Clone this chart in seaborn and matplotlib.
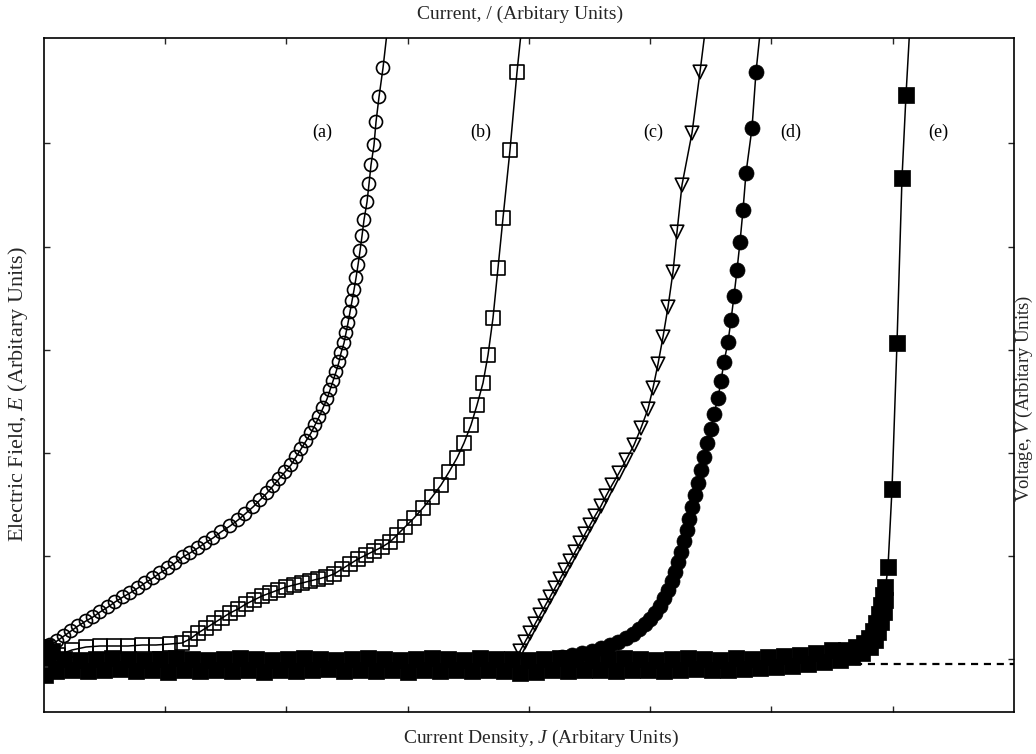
import matplotlib
matplotlib.use("Agg")
import matplotlib.pyplot as plt
import seaborn as sns

# ---------------- data (arbitrary units) ----------------
# (a) open circles
a_x = [45, 50, 57, 64, 71, 78, 86, 93, 100, 108, 115,
       123, 130, 138, 145, 153, 160, 168, 175, 183, 190,
       198, 205, 213, 221, 230, 238, 245, 253, 260, 267,
       273, 279, 285, 291, 296, 301, 306, 311, 315, 319,
       323, 327, 330, 333, 336, 339, 341, 344, 346, 348,
       350, 352, 354, 356, 358, 360, 362, 364, 367, 369,
       371, 374, 376, 379, 383]
a_y = [12, 19, 23, 28, 33, 38, 43, 47, 52, 57, 62,
       67, 71, 76, 81, 86, 91, 96, 101, 107, 111,
       116, 121, 126, 132, 138, 144, 150, 157, 164, 171,
       178, 185, 192, 199, 207, 215, 223, 231, 239, 247,
       256, 265, 274, 283, 292, 302, 311, 321, 331, 341,
       352, 363, 374, 386, 399, 413, 428, 444, 462, 480,
       499, 519, 542, 567, 596]
a_line_x = a_x + [388]
a_line_y = a_y + [640]

# (b) open squares
b_x = [58, 72, 86, 100, 114, 128, 142, 156, 170, 182, 190, 198, 206, 214,
       222, 230, 238, 246, 254, 262, 270, 278, 286, 294, 302, 310, 318, 326,
       334, 342, 350, 358, 366, 374, 382, 390, 397, 405, 414, 423, 432, 441,
       449, 457, 464, 471, 477, 483, 488, 493, 498, 503, 510, 517]
b_y = [9, 14, 17, 18, 18, 18, 19, 19, 20, 21, 25, 31, 36, 41,
       46, 51, 55, 60, 64, 68, 71, 74, 77, 79, 81, 83, 85, 87,
       90, 95, 100, 105, 109, 113, 117, 122, 129, 137, 146, 156, 167, 179,
       192, 206, 221, 239, 259, 281, 309, 346, 396, 446, 514, 592]
b_line_x = b_x + [522]
b_line_y = b_y + [640]

# (c) open down-triangles
c_x = [520, 525, 530, 535, 540, 545, 550, 555, 560, 565, 570, 575, 580,
       585, 590, 595, 601, 606, 612, 619, 626, 634, 641, 648, 653, 658,
       663, 668, 673, 677, 682, 692, 700]
c_y = [13, 22, 31, 40, 49, 58, 67, 76, 85, 94, 103, 112, 121,
       130, 139, 148, 158, 168, 179, 191, 204, 219, 236, 255, 276, 300,
       327, 357, 392, 432, 479, 531, 592]
c_line_x = [517] + c_x + [706]
c_line_y = [4] + c_y + [640]

# (d) filled circles
d_x = [562, 572, 582, 592, 601, 610, 618, 626, 633, 639, 645, 650, 655,
       660, 664, 668, 672, 675, 678, 681, 684, 687, 689, 692, 695, 698,
       701, 704, 707, 711, 714, 718, 721, 724, 728, 731, 734, 737, 740,
       743, 746, 752, 756]
d_y = [7, 9, 11, 13, 16, 19, 22, 26, 30, 35, 40, 45, 51,
       58, 66, 74, 83, 92, 102, 112, 123, 134, 145, 157, 169, 181,
       194, 207, 221, 235, 250, 266, 283, 302, 322, 344, 368, 394, 422,
       454, 491, 536, 592]
d_line_x = d_x + [762]
d_line_y = d_y + [650]

# (e) filled squares (baseline, knee and rise)
e_x = [45, 45, 52,
       48, 56, 64, 72, 80, 88, 96, 104, 112, 120,
       128, 136, 144, 152, 160, 168, 176, 184, 192, 200,
       208, 216, 224, 232, 240, 248, 256, 264, 272, 280,
       288, 296, 304, 312, 320, 328, 336, 344, 352, 360,
       368, 376, 384, 392, 400, 408, 416, 424, 432, 440,
       448, 456, 464, 472, 480, 488, 496, 504, 512, 520,
       528, 536, 544, 552, 560, 568, 576, 584, 592, 600,
       608, 616, 624, 632, 640, 648, 656, 664, 672, 680,
       688, 696, 704, 712, 720, 728, 736, 744, 752, 760,
       768, 776, 784, 792, 800, 808, 816, 824, 832, 840,
       846, 852, 856, 862, 864, 870, 869, 875, 873, 878,
       876, 881, 879, 884, 881, 885, 883, 885, 888, 892,
       897, 902, 906]
e_y = [17, -11, 13,
       6, -7, 5, -6, 4, -7, 5, -6, 6, -5,
       5, -7, 4, -6, 5, -8, 6, -6, 5, -7,
       4, -6, 5, -7, 6, -6, 5, -8, 4, -6,
       5, -7, 6, -6, 5, -5, 4, -7, 5, -6,
       6, -7, 5, -6, 4, -8, 5, -6, 6, -7,
       5, -6, 4, -7, 6, -6, 5, -7, 5, -9,
       4, -8, 5, -6, 6, -7, 5, -6, 4, -6,
       5, -7, 6, -6, 5, -6, 4, -7, 5, -6,
       6, -5, 5, -6, 4, -6, 6, -5, 5, -4,
       7, -3, 8, -2, 9, 0, 11, 2, 14, 4,
       14, 7, 17, 11, 21, 17, 26, 24, 33, 32,
       41, 42, 50, 52, 59, 64, 69, 77, 97, 175,
       321, 486, 569]
e_line_x = [878, 884, 888, 892, 897, 902, 906, 910]
e_line_y = [39, 64, 97, 175, 321, 486, 569, 640]

# reference (zero) line
zero_x = [855, 1014]
zero_y = [0, 0]

curve_labels = ["(a)", "(b)", "(c)", "(d)", "(e)"]
label_x = [322, 481, 653, 791, 938]
label_y = [532, 532, 532, 532, 532]

x_ticks = [165, 286, 408, 529, 650, 771, 893]
y_ticks = [5, 108, 211, 314, 417, 521]

# ---------------- style ----------------
sns.set_style("ticks")
plt.rcParams["font.family"] = ["Liberation Serif", "DejaVu Serif"]
plt.rcParams["mathtext.fontset"] = "custom"
plt.rcParams["mathtext.rm"] = "Liberation Serif"
plt.rcParams["mathtext.it"] = "Liberation Serif:italic"

fig = plt.figure(figsize=(10.36, 7.54), dpi=100)
ax = fig.add_axes([44 / 1036, 42 / 754, 970 / 1036, 674 / 754])

LW = 1.1
for lx, ly in [(a_line_x, a_line_y), (b_line_x, b_line_y), (c_line_x, c_line_y),
               (d_line_x, d_line_y), (e_line_x, e_line_y)]:
    sns.lineplot(x=lx, y=ly, sort=False, estimator=None, color="black", lw=LW, ax=ax)

sns.lineplot(x=zero_x, y=zero_y, sort=False, estimator=None, color="black",
             lw=1.6, linestyle=(0, (3.2, 2.6)), ax=ax)

sns.scatterplot(x=e_x, y=e_y, marker="s", s=117, color="black", edgecolor="black",
                linewidth=0.5, ax=ax, zorder=3)
sns.scatterplot(x=d_x, y=d_y, marker="o", s=117, color="black", edgecolor="black",
                linewidth=0.5, ax=ax, zorder=3)
sns.scatterplot(x=a_x, y=a_y, marker="o", s=88, facecolor="none", edgecolor="black",
                linewidth=1.2, ax=ax, zorder=4)
sns.scatterplot(x=b_x, y=b_y, marker="s", s=88, facecolor="none", edgecolor="black",
                linewidth=1.2, ax=ax, zorder=4)
sns.scatterplot(x=c_x, y=c_y, marker="v", s=95, facecolor="none", edgecolor="black",
                linewidth=1.2, ax=ax, zorder=4)

for t, tx, ty in zip(curve_labels, label_x, label_y):
    ax.text(tx, ty, t, ha="center", va="center", fontsize=13, color="black")

ax.set_xlim(44, 1014)
ax.set_ylim(-48, 626)
ax.set_xticks(x_ticks)
ax.set_yticks(y_ticks)
ax.tick_params(direction="in", length=4, width=1, top=True, right=True,
               labelbottom=False, labelleft=False)
for sp in ax.spines.values():
    sp.set_linewidth(1.2)
    sp.set_color("black")

ax.set_xlabel("Current Density, $J$ (Arbitary Units)", fontsize=14)
ax.xaxis.label.set_va("center")
ax.xaxis.set_label_coords(0.512, -0.039)
ax.set_ylabel("Electric Field, $E$ (Arbitary Units)", fontsize=16)
ax.yaxis.label.set_va("center")
ax.yaxis.set_label_coords(-0.027, 0.472)
ax.text(0.491, 1.035, "Current, / (Arbitary Units)", transform=ax.transAxes,
        ha="center", va="center", fontsize=14)
ax.text(1.0112, 0.465, "Voltage, $V$ (Arbitary Units)", transform=ax.transAxes,
        ha="center", va="center", rotation=90, fontsize=13.5)

fig.savefig("out.png", dpi=100, facecolor="white")
